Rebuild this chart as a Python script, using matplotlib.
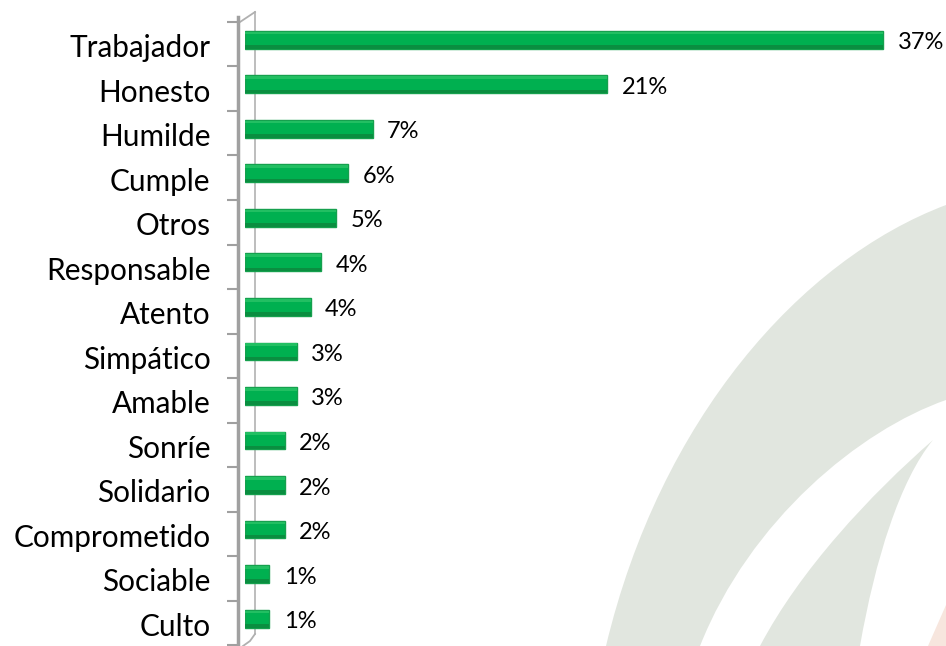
import matplotlib.pyplot as plt
from matplotlib.patches import PathPatch
from matplotlib.path import Path
from matplotlib.transforms import ScaledTranslation

categories = ["Trabajador", "Honesto", "Humilde", "Cumple", "Otros", "Responsable",
              "Atento", "Simpático", "Amable", "Sonríe", "Solidario", "Comprometido",
              "Sociable", "Culto"]
values = [37.0, 21.0, 7.4, 6.0, 5.3, 4.4, 3.8, 3.0, 3.0, 2.3, 2.3, 2.3, 1.4, 1.4]
labels = [f"{round(v)}%" for v in values]

plt.rcParams["font.family"] = ["Lato", "DejaVu Sans"]

fig = plt.figure(figsize=(9.46, 6.46), dpi=100)

# faint watermark in the background (pixel coords)
bg = fig.add_axes([0, 0, 1, 1], zorder=-5)
bg.set_xlim(0, 946)
bg.set_ylim(646, 0)
bg.axis("off")
C4, L = Path.CURVE4, Path.LINETO
band = Path([(946, 205), (800, 260), (660, 420), (606, 646),
             (700, 646), (750, 520), (860, 430), (946, 400), (946, 205)],
            [Path.MOVETO, C4, C4, C4, L, C4, C4, C4, Path.CLOSEPOLY])
bg.add_patch(PathPatch(band, color="#e1e6df", lw=0))
leaf = Path([(933, 440), (870, 495), (800, 570), (760, 646),
             (860, 646), (875, 560), (900, 480), (933, 440)],
            [Path.MOVETO, C4, C4, C4, L, C4, C4, C4])
bg.add_patch(PathPatch(leaf, color="#e1e6df", lw=0))
bg.add_patch(PathPatch(Path([(928, 646), (946, 605), (946, 646), (928, 646)]),
                       color="#f7e6de", lw=0))
# back wall of the 3D axis
bg.plot([255, 255], [12, 634], color="#b8b8b8", lw=1.3)
bg.plot([240, 255], [22, 12], color="#b0b0b0", lw=1.3)
bg.plot([255, 250, 243], [634, 641, 646], color="#b0b0b0", lw=1.3)

ax = fig.add_axes([0.259, 0.001, 0.741, 0.972])
ax.patch.set_alpha(0)
y = list(range(len(categories)))

ax.barh(y, values, height=0.40, color="#00b050", edgecolor="#16a04e",
        linewidth=1.0, zorder=3)
ax.barh([i + 0.16 for i in y], values, height=0.08, color="#0a8e40",
        linewidth=0, zorder=4)
ax.barh([i - 0.15 for i in y], values, height=0.06, color="#22bf62",
        linewidth=0, zorder=4)

down = ScaledTranslation(0, -3 / 100, fig.dpi_scale_trans)
for i, v in enumerate(values):
    ax.text(v + 0.85, i, labels[i], va="center", ha="left", fontsize=17,
            color="#000000", transform=ax.transData + down)

ax.set_xlim(0, 40.66)
ax.set_ylim(13.5, -0.5)
# category names sit a few pixels below the bar centres
ax.set_yticks([i + 0.13 for i in y])
ax.set_yticklabels(categories)
ax.tick_params(axis="y", which="major", length=0, pad=20, labelsize=21.4,
               labelcolor="#000000")
ax.set_yticks([k - 0.4 for k in range(len(categories) + 1)], minor=True)
ax.tick_params(axis="y", which="minor", length=8, width=1.5, color="#a0a0a0")
ax.set_xticks([])
for s in ["top", "right", "bottom"]:
    ax.spines[s].set_visible(False)
ax.spines["left"].set_position(("outward", 5))
ax.spines["left"].set_color("#a0a0a0")
ax.spines["left"].set_linewidth(2.5)

fig.savefig("out.png", dpi=100)
